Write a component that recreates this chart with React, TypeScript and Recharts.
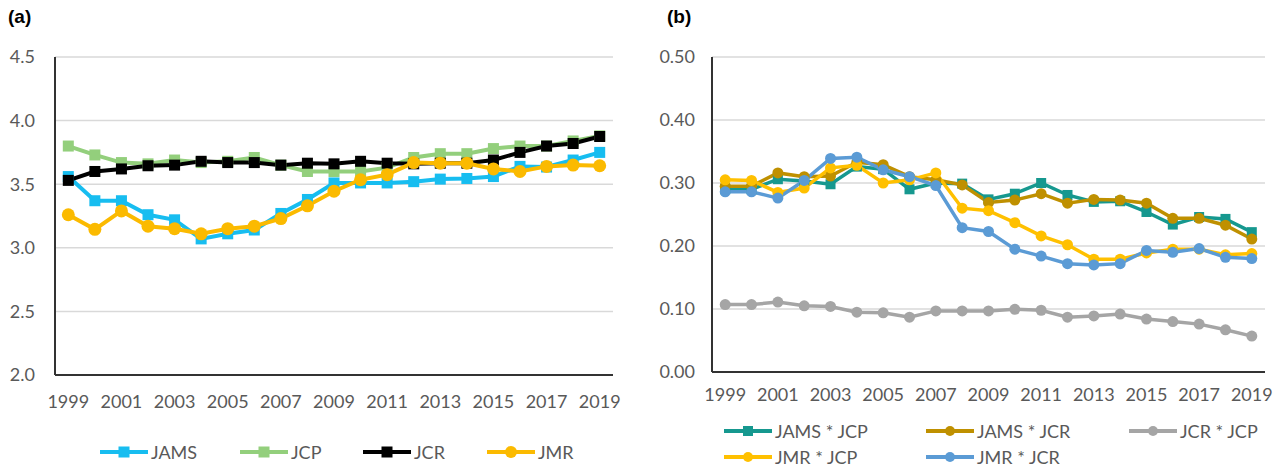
import React from 'react';
import { LineChart, Line, XAxis, YAxis, CartesianGrid } from 'recharts';

// ---------- data ----------
const years = ['1999', '2000', '2001', '2002', '2003', '2004', '2005', '2006', '2007', '2008', '2009', '2010', '2011', '2012', '2013', '2014', '2015', '2016', '2017', '2018', '2019'];

// panel (a)
const jams = [3.56, 3.37, 3.37, 3.26, 3.22, 3.07, 3.11, 3.14, 3.27, 3.38, 3.51, 3.51, 3.51, 3.52, 3.54, 3.545, 3.56, 3.64, 3.635, 3.69, 3.75];
const jcp = [3.80, 3.73, 3.67, 3.66, 3.69, 3.67, 3.68, 3.71, 3.65, 3.60, 3.60, 3.60, 3.63, 3.71, 3.74, 3.74, 3.78, 3.80, 3.80, 3.84, 3.88];
const jcr = [3.53, 3.60, 3.62, 3.645, 3.65, 3.68, 3.67, 3.67, 3.65, 3.665, 3.66, 3.68, 3.665, 3.66, 3.665, 3.665, 3.69, 3.75, 3.80, 3.82, 3.875];
const jmr = [3.26, 3.145, 3.29, 3.17, 3.15, 3.11, 3.15, 3.17, 3.23, 3.33, 3.445, 3.535, 3.575, 3.67, 3.665, 3.665, 3.62, 3.60, 3.64, 3.65, 3.645];
const ticksA = [2.0, 2.5, 3.0, 3.5, 4.0, 4.5];

// panel (b)
const jamsJcp = [0.29, 0.29, 0.306, 0.303, 0.298, 0.326, 0.322, 0.29, 0.30, 0.299, 0.274, 0.283, 0.30, 0.281, 0.27, 0.271, 0.254, 0.234, 0.246, 0.243, 0.222];
const jamsJcr = [0.295, 0.295, 0.316, 0.31, 0.311, 0.333, 0.329, 0.31, 0.305, 0.297, 0.269, 0.273, 0.283, 0.268, 0.274, 0.273, 0.268, 0.244, 0.244, 0.233, 0.211];
const jcrJcp = [0.107, 0.107, 0.111, 0.105, 0.104, 0.095, 0.094, 0.087, 0.097, 0.097, 0.097, 0.0995, 0.098, 0.087, 0.089, 0.092, 0.084, 0.080, 0.076, 0.067, 0.057];
const jmrJcp = [0.305, 0.304, 0.285, 0.292, 0.324, 0.328, 0.30, 0.305, 0.316, 0.26, 0.256, 0.237, 0.216, 0.202, 0.179, 0.179, 0.189, 0.195, 0.195, 0.186, 0.188];
const jmrJcr = [0.286, 0.286, 0.276, 0.304, 0.339, 0.341, 0.321, 0.31, 0.296, 0.229, 0.223, 0.195, 0.184, 0.172, 0.170, 0.172, 0.193, 0.190, 0.196, 0.182, 0.180];
const ticksB = [0, 0.1, 0.2, 0.3, 0.4, 0.5];

const seriesA = [
  { key: 'JAMS', values: jams, color: '#17BDF0', shape: 'square' },
  { key: 'JCP', values: jcp, color: '#93CF7C', shape: 'square' },
  { key: 'JCR', values: jcr, color: '#000000', shape: 'square' },
  { key: 'JMR', values: jmr, color: '#FBBA00', shape: 'circle' },
];
const seriesB = [
  { key: 'JAMS * JCP', values: jamsJcp, color: '#16988F', shape: 'square' },
  { key: 'JAMS * JCR', values: jamsJcr, color: '#BF9000', shape: 'circle' },
  { key: 'JCR * JCP', values: jcrJcp, color: '#A5A5A5', shape: 'circle' },
  { key: 'JMR * JCP', values: jmrJcp, color: '#FFC000', shape: 'circle' },
  { key: 'JMR * JCR', values: jmrJcr, color: '#5B9BD5', shape: 'circle' },
];

const dataA = years.map((y, i) => {
  const row: any = { year: y };
  seriesA.forEach((s) => (row[s.key] = s.values[i]));
  return row;
});
const dataB = years.map((y, i) => {
  const row: any = { year: y };
  seriesB.forEach((s) => (row[s.key] = s.values[i]));
  return row;
});

// ---------- styling ----------
const FONT = 'Lato, "Open Sans", "Noto Sans", sans-serif';
const TICK_COLOR = '#595959';
const FRAME = '#333333';
const FRAME_W = 2;

const makeDot = (shape: string, color: string, size: number, id: string) => (p: any) => {
  const k = `${id}-${p.index}`;
  if (p.cx == null || p.cy == null) return <g key={k} />;
  if (shape === 'square') {
    return <rect key={k} x={p.cx - size / 2} y={p.cy - size / 2} width={size} height={size} fill={color} />;
  }
  return <circle key={k} cx={p.cx} cy={p.cy} r={size / 2} fill={color} />;
};

const LegendIcon = ({ color, shape, size }: { color: string; shape: string; size: number }) => (
  <svg width={48} height={16} style={{ display: 'block' }}>
    <line x1={0} y1={8} x2={48} y2={8} stroke={color} strokeWidth={4} />
    {shape === 'square' ? (
      <rect x={24 - size / 2} y={8 - size / 2} width={size} height={size} fill={color} />
    ) : (
      <circle cx={24} cy={8} r={size / 2} fill={color} />
    )}
  </svg>
);

const LegendItem = ({ left, top, s, size }: any) => (
  <div style={{ position: 'absolute', left, top, display: 'flex', alignItems: 'center', height: 16 }}>
    <LegendIcon color={s.color} shape={s.shape} size={size} />
    <span style={{ marginLeft: 3, fontFamily: FONT, fontSize: 18, color: TICK_COLOR, lineHeight: '16px', whiteSpace: 'nowrap' }}>{s.key}</span>
  </div>
);

const tickStyle = { fontFamily: FONT, fontSize: 18, fill: TICK_COLOR };
const frameLine = { stroke: FRAME, strokeWidth: FRAME_W };

export default function App() {
  const legendAPos = [100, 240, 363, 487];
  const legendBPos = [
    [724, 423],
    [926, 423],
    [1129, 423],
    [724, 449],
    [926, 449],
  ];
  return (
    <div style={{ position: 'absolute', left: 0, top: 0, width: 1277, height: 469, background: '#fff', overflow: 'hidden' }}>
      <div style={{ position: 'absolute', left: 8, top: 6, fontFamily: '"Liberation Sans", Arial, sans-serif', fontWeight: 'bold', fontSize: 19 }}>(a)</div>
      <div style={{ position: 'absolute', left: 667, top: 6, fontFamily: '"Liberation Sans", Arial, sans-serif', fontWeight: 'bold', fontSize: 19 }}>(b)</div>

      <div style={{ position: 'absolute', left: 0, top: 0 }}>
        <LineChart width={640} height={469} data={dataA} margin={{ top: 57, right: 27, bottom: 64, left: 10 }}>
          <CartesianGrid vertical={false} stroke="#d9d9d9" strokeWidth={1.5} />
          <XAxis dataKey="year" interval={1} tickLine={false} tickSize={0} tickMargin={20} height={30} padding={{ left: 13.3, right: 13.3 }} tick={tickStyle} axisLine={frameLine} />
          <XAxis xAxisId="top" orientation="top" dataKey="year" tick={false} tickLine={false} height={0} axisLine={frameLine} padding={{ left: 13.3, right: 13.3 }} />
          <YAxis domain={[2, 4.5]} ticks={ticksA} width={45} tickLine={false} tickSize={0} tickMargin={20} tick={tickStyle} tickFormatter={(v: number) => v.toFixed(1)} axisLine={frameLine} />
          <YAxis yAxisId="right" orientation="right" domain={[2, 4.5]} width={0} tick={false} tickLine={false} axisLine={frameLine} />
          {seriesA.map((s) => (
            <Line key={s.key} dataKey={s.key} stroke={s.color} strokeWidth={4} isAnimationActive={false}
              dot={makeDot(s.shape, s.color, s.shape === 'square' ? 11 : 13, s.key)} activeDot={false} />
          ))}
        </LineChart>
      </div>

      <div style={{ position: 'absolute', left: 640, top: 0 }}>
        <LineChart width={637} height={469} data={dataB} margin={{ top: 57, right: 12, bottom: 67, left: 10 }}>
          <CartesianGrid vertical={false} stroke="#d9d9d9" strokeWidth={1.5} />
          <XAxis dataKey="year" interval={1} tickLine={false} tickSize={0} tickMargin={16} height={30} padding={{ left: 13.2, right: 13.2 }} tick={tickStyle} axisLine={frameLine} />
          <XAxis xAxisId="top" orientation="top" dataKey="year" tick={false} tickLine={false} height={0} axisLine={frameLine} padding={{ left: 13.2, right: 13.2 }} />
          <YAxis domain={[0, 0.5]} ticks={ticksB} width={62} tickLine={false} tickSize={0} tickMargin={17} tick={tickStyle} tickFormatter={(v: number) => v.toFixed(2)} axisLine={frameLine} />
          <YAxis yAxisId="right" orientation="right" domain={[0, 0.5]} width={0} tick={false} tickLine={false} axisLine={frameLine} />
          {seriesB.map((s) => (
            <Line key={s.key} dataKey={s.key} stroke={s.color} strokeWidth={3.5} isAnimationActive={false}
              dot={makeDot(s.shape, s.color, s.shape === 'square' ? 10 : 11, s.key)} activeDot={false} />
          ))}
        </LineChart>
      </div>

      {seriesA.map((s, i) => (
        <LegendItem key={s.key} left={legendAPos[i]} top={444} s={s} size={s.shape === 'square' ? 11 : 12} />
      ))}
      {seriesB.map((s, i) => (
        <LegendItem key={s.key} left={legendBPos[i][0]} top={legendBPos[i][1]} s={s} size={10} />
      ))}
    </div>
  );
}
